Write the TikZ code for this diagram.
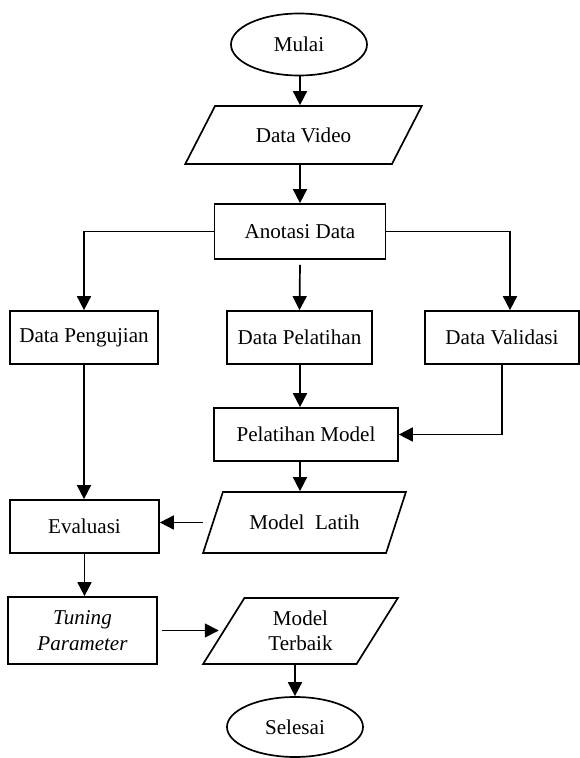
\documentclass[tikz,border=0pt]{standalone}
\usepackage{fontspec}
\setmainfont{Liberation Serif}
\usetikzlibrary{shapes.geometric,arrows.meta}

\begin{document}
\begin{tikzpicture}[
        proc/.style={draw, very thick, rectangle, minimum height=1.325cm, align=center, inner sep=2pt},
        io/.style={draw, very thick, trapezium, trapezium stretches=true, align=center, inner sep=2pt},
        term/.style={draw, very thick, ellipse, minimum width=3.4cm, minimum height=1.55cm},
        arr/.style={very thick, -{Triangle[length=3.5mm, width=3.5mm]}}
    ]
        \fontsize{15}{18}\selectfont

        \useasboundingbox (0,0) rectangle (14.5,18.95);
        \coordinate (axis) at (7.5,0);

        % alur utama
        \node[term] (mulai) at (7.475,17.8375) {Mulai};
        \node[io, minimum width=5.925cm, minimum height=1.45cm,
              trapezium left angle=50.4, trapezium right angle=129.6] (video) at (7.5875,15.575) {Data Video};
        \node[proc, minimum width=4.275cm, minimum height=1.375cm] (anotasi) at (7.5,13.1625) {Anotasi Data};

        % pembagian data
        \node[proc, minimum width=3.7cm] (uji) at (2.1,10.5125) {Data Pengujian};
        \node[proc, minimum width=3.625cm] (latih) at (7.4875,10.5125) {Data Pelatihan};
        \node[proc, minimum width=3.85cm] (validasi) at (12.55,10.5125) {Data Validasi};

        \node[proc, minimum width=4.6cm] (pelatihan) at (7.65,8.0875) {Pelatihan Model};
        \node[io, minimum width=5.075cm, minimum height=1.525cm,
              trapezium left angle=55.5, trapezium right angle=124.5] (model) at (7.6125,5.8875) {Model\ \ Latih};
        \node[proc, minimum width=3.725cm] (evaluasi) at (2.1125,5.7875) {Evaluasi};
        \node[proc, minimum width=3.725cm, minimum height=1.675cm] (tuning) at (2.0625,3.1875) {\textit{Tuning}\\\textit{Parameter}};
        \node[io, minimum width=4.875cm, minimum height=1.65cm,
              trapezium left angle=60.7, trapezium right angle=119.3] (terbaik) at (7.5125,3.175) {Model\\Terbaik};
        \node[term, minimum height=1.5cm] (selesai) at (7.375,0.775) {Selesai};

        % panah
        \draw[arr] (axis |- mulai.south) -- (axis |- video.north);
        \draw[arr] (axis |- video.south) -- (axis |- anotasi.north);
        \draw[arr] (anotasi.west) -| (uji.north);
        \draw[arr] (anotasi.east) -| ([xshift=0.2cm]validasi.north);
        \draw[arr] ([yshift=-0.125cm]anotasi.south) -- (latih.north);
        \draw[arr] (axis |- latih.south) -- (axis |- pelatihan.north);
        \draw[arr] (validasi.south) |- (pelatihan.east);
        \draw[arr] (uji.south) -- (uji.south |- evaluasi.north);
        \draw[arr] (axis |- pelatihan.south) -- (axis |- model.north);
        \draw[arr] ([xshift=-0.225cm]model.west) -- (evaluasi.east |- model.west);
        \draw[arr] (evaluasi.south) -- (evaluasi.south |- tuning.north);
        \draw[arr] ([xshift=0.1cm]tuning.east) -- ([xshift=-0.1cm]terbaik.west |- tuning.east);
        \draw[arr] (selesai.north |- terbaik.south) -- (selesai.north);

\end{tikzpicture}
\end{document}
